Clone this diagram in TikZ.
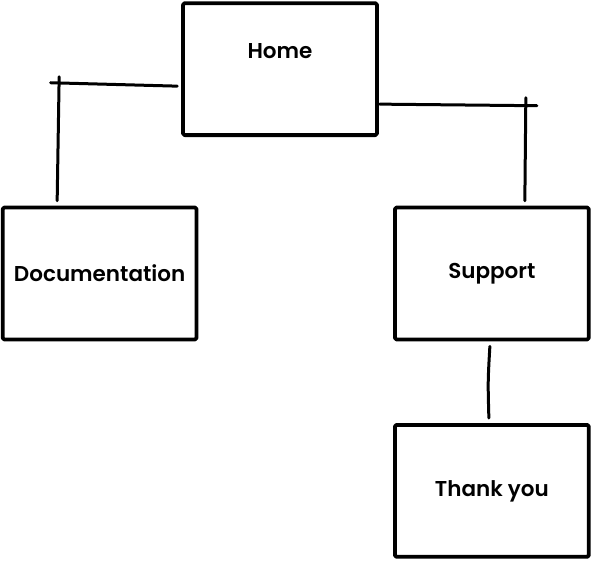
\documentclass[tikz,border=0pt]{standalone}
\usepackage{fontspec}
\setmainfont{Poppins}[UprightFont=* SemiBold]
\usetikzlibrary{positioning}

\begin{document}
\begin{tikzpicture}[x=1pt,y=-1pt,line cap=round,line join=round]
\tikzset{
  page/.style={draw=white,fill=white},
  box/.style={draw,line width=3.8pt,rounded corners=1.5pt,minimum width=194pt,minimum height=132pt,inner sep=0pt,font=\fontsize{21.5}{26}\selectfont},
  link/.style={line width=3pt}
}
\useasboundingbox[page] (0,0) rectangle (592,562);
% ---------- pages ----------
\node[box] (home) at (280,69) {};
\node[font=\fontsize{21.5}{26}\selectfont] (homelbl) at (280,51) {Home};
\node[box] (doc) at (99.5,273.5) {Documentation};
\node[box] (support) at (492,273.5) {Support};
\node[box] (thanks) at (492,491) {Thank you};
% ---------- connectors ----------
% home to documentation
\coordinate (dtop) at ([xshift=-42pt,yshift=129pt]doc.north);
\draw[link] ([xshift=-4pt,yshift=-17pt]home.west) -- ([xshift=-7pt,yshift=-6pt]dtop);
\draw[link] ([xshift=1.5pt]dtop) -- ([xshift=-42.5pt,yshift=5pt]doc.north);
% home to support
\coordinate (stop) at ([xshift=34pt,yshift=103pt]support.north);
\draw[link] ([xshift=1pt,yshift=-35pt]home.east) -- ([xshift=11pt,yshift=-3pt]stop);
\draw[link] ([yshift=5pt]stop) -- ([xshift=33pt,yshift=5pt]support.north);
% support to thank you
\draw[link] ([xshift=-2pt,yshift=-5pt]support.south) .. controls ([xshift=-4pt,yshift=-40pt]support.south) .. ([xshift=-3pt,yshift=5pt]thanks.north);
\end{tikzpicture}
\end{document}
